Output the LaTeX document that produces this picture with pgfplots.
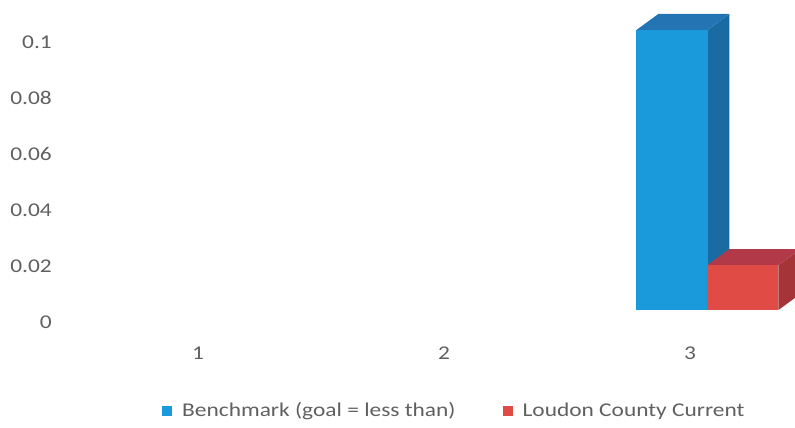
\documentclass[border=0pt]{standalone}
\usepackage{fontspec}
\setmainfont{Carlito}[FakeStretch=1.2]
\usepackage{pgfplots}
\usepackage{pgfplotstable}
\pgfplotsset{compat=1.18}

\definecolor{blueFront}{HTML}{1A9ADB}
\definecolor{blueSide}{HTML}{1B6BA3}
\definecolor{blueTop}{HTML}{2474B3}
\definecolor{redFront}{HTML}{E04B45}
\definecolor{redTop}{HTML}{B23A48}
\definecolor{redSide}{HTML}{A53439}
\definecolor{labelgrey}{HTML}{606060}

% rates per category; categories 1 and 2 have no data
\pgfplotstableread{
cat bench loudon
1   nan   nan
2   nan   nan
3   0.1   0.016
}\ratedata

% oblique depth of the 3-D columns (x in category units, y in data units)
\def\dx{0.089}
\def\dy{0.0057}
\def\hw{0.1445}

% side and top faces of a column centred at #1 with height #2
\newcommand\depthfaces[4]{%
  \pgfmathsetmacro\xl{#1-\hw}%
  \pgfmathsetmacro\xr{#1+\hw}%
  \pgfmathsetmacro\xld{\xl+\dx}%
  \pgfmathsetmacro\xrd{\xr+\dx}%
  \pgfmathsetmacro\vt{#2+\dy}%
  \addplot[fill=#4, draw=none, forget plot]
    coordinates {(\xr,0) (\xrd,\dy) (\xrd,\vt) (\xr,#2)};
  \addplot[fill=#3, draw=none, forget plot]
    coordinates {(\xl,#2) (\xr,#2) (\xrd,\vt) (\xld,\vt)};
}

\begin{document}
\fontsize{19.5bp}{23bp}\selectfont
\begin{tikzpicture}
\useasboundingbox (0,0) rectangle (795bp,428bp);
\begin{axis}[
  at={(68bp,118bp)}, anchor=south west,
  scale only axis,
  width=727bp, height=310bp,
  xmin=0.4715, xmax=3.427,
  ymin=0, ymax=0.1107,
  clip=false,
  axis line style={draw=none},
  tick style={draw=none},
  xtick={1,2,3}, xticklabels={1,2,3},
  ytick={0,0.02,0.04,0.06,0.08,0.1},
  yticklabels={0,0.02,0.04,0.06,0.08,0.1},
  /pgf/number format/assume math mode=true,
  ticklabel style={font=\fontsize{19.5bp}{23bp}\selectfont, text=labelgrey},
  yticklabel style={anchor=east, inner sep=0pt, xshift=-16bp, yshift=-12bp},
  xticklabel style={anchor=center, inner sep=0pt, yshift=-43bp},
  legend columns=2,
  legend cell align=left,
  legend style={draw=none, fill=none, inner sep=0pt,
    at={(0.1293,-0.3258)}, anchor=west,
    font=\fontsize{19.5bp}{23bp}\selectfont, text=labelgrey,
    nodes={inner sep=0pt},
    /tikz/every even column/.append style={column sep=47bp},
    /tikz/every odd column/.append style={column sep=10bp}},
]
\pgfplotstablegetelem{2}{bench}\of\ratedata
\let\vB\pgfplotsretval
\pgfplotstablegetelem{2}{loudon}\of\ratedata
\let\vL\pgfplotsretval

\depthfaces{2.927}{\vB}{blueTop}{blueSide}
\addplot[ybar, bar width=0.289, bar shift=-0.073, fill=blueFront, draw=none,
  legend image code/.code={\fill[blueFront] (0bp,-5bp) rectangle (10bp,5bp);}]
  table[x=cat, y=bench] {\ratedata};
\addlegendentry{Benchmark (goal = less than)}

\depthfaces{3.215}{\vL}{redTop}{redSide}
\addplot[ybar, bar width=0.289, bar shift=0.215, fill=redFront, draw=none,
  legend image code/.code={\fill[redFront] (0bp,-5bp) rectangle (10bp,5bp);}]
  table[x=cat, y=loudon] {\ratedata};
\addlegendentry{Loudon County Current}
\end{axis}
\end{tikzpicture}
\end{document}
